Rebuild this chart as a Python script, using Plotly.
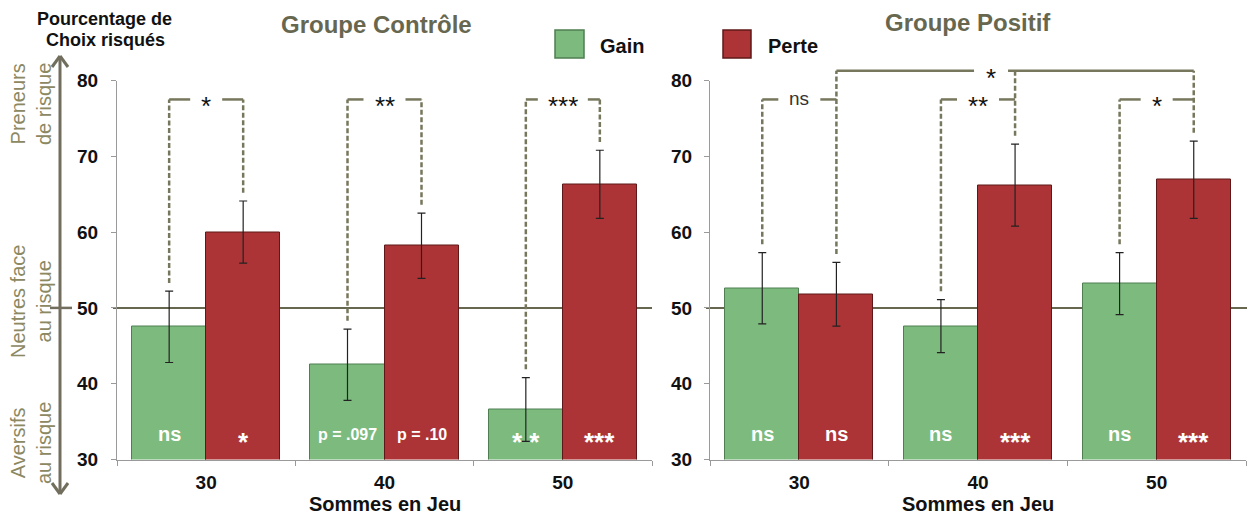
import plotly.graph_objects as go

# ---------------- data ----------------
categories = ["30", "40", "50"]
ctrl_gain = [47.5, 42.5, 36.6]
ctrl_gain_err = [4.7, 4.7, 4.2]
ctrl_loss = [60.0, 58.2, 66.3]
ctrl_loss_err = [4.1, 4.3, 4.5]
pos_gain = [52.6, 47.6, 53.2]
pos_gain_err = [4.7, 3.5, 4.1]
pos_loss = [51.8, 66.2, 66.9]
pos_loss_err = [4.2, 5.4, 5.1]
ctrl_gain_labels = ["ns", "p = .097", "* *"]
ctrl_loss_labels = ["*", "p = .10", "***"]
pos_gain_labels = ["ns", "ns", "ns"]
pos_loss_labels = ["ns", "***", "***"]
ctrl_pair_sig = ["*", "**", "***"]
pos_pair_sig = ["ns", "**", "*"]
pos_across_sig = "*"
yticks = [30, 40, 50, 60, 70, 80]

# ---------------- style ----------------
W, H = 1247, 516
FONT = "Liberation Sans, Arial, sans-serif"
GREEN = "#7dba7e"
GREEN_LINE = "#4f7f50"
RED = "#ad3436"
RED_LINE = "#5e1819"
OLIVE = "#676750"
DASHC = "#77775d"
KHAKI = "#8c8862"
Y0, Y1 = 1 - 459.5 / H, 1 - 80.5 / H
XL = [117 / W, 652 / W]
XR = [710 / W, 1246 / W]
wl = wr = 0.415
catpx_l = (652 - 117) / 3
catpx_r = (1246 - 710) / 3
PXU = (459.5 - 80.5) / 50  # pixels per y unit


def yp(v):
    return Y0 + (v - 30) / 50 * (Y1 - Y0)


fig = go.Figure()


def add_bars(vals, errs, color, lcolor, offset, width, xa, ya):
    fig.add_trace(go.Bar(
        x=categories, y=vals, xaxis=xa, yaxis=ya,
        offset=offset, width=width,
        marker=dict(color=color, line=dict(color=lcolor, width=1)),
        error_y=dict(type="data", array=errs, color="#222222", thickness=1.2, width=4),
        showlegend=False, hoverinfo="skip",
    ))


add_bars(ctrl_gain, ctrl_gain_err, GREEN, GREEN_LINE, -wl, wl, "x", "y")
add_bars(ctrl_loss, ctrl_loss_err, RED, RED_LINE, 0, wl, "x", "y")
add_bars(pos_gain, pos_gain_err, GREEN, GREEN_LINE, -wr, wr, "x2", "y2")
add_bars(pos_loss, pos_loss_err, RED, RED_LINE, 0, wr, "x2", "y2")

shapes = []
annotations = []


def ann(**kw):
    kw.setdefault("showarrow", False)
    kw.setdefault("xanchor", "center")
    kw.setdefault("yanchor", "middle")
    annotations.append(kw)


# 50% reference lines
shapes.append(dict(type="line", xref="paper", yref="paper", x0=113 / W, x1=652 / W,
                   y0=yp(50), y1=yp(50), line=dict(color=OLIVE, width=2), layer="below"))
shapes.append(dict(type="line", xref="paper", yref="paper", x0=706 / W, x1=1.0,
                   y0=yp(50), y1=yp(50), line=dict(color=OLIVE, width=2), layer="below"))


def vdash(xref, x, v0, v1):
    shapes.append(dict(type="line", xref=xref, yref="paper", x0=x, x1=x, y0=yp(v0), y1=yp(v1),
                       line=dict(color=DASHC, width=2.5, dash="5px,2.5px")))


def hsolid(xref, xa, xb, v):
    shapes.append(dict(type="line", xref=xref, yref="paper", x0=xa, x1=xb, y0=yp(v), y1=yp(v),
                       line=dict(color=DASHC, width=2.5)))


def sigtext(xref, x, v, txt):
    if txt == "ns":
        ann(xref=xref, yref="paper", x=x, y=yp(v + 0.1), text=txt,
            font=dict(family=FONT, size=19, color="#333333"))
    else:
        size = 26
        ann(xref=xref, yref="paper", x=x, y=yp(v - 0.27 * size / PXU), text=txt,
            font=dict(family=FONT, size=size, color="#111111"))


gap_px = {"*": 16, "**": 21, "***": 25, "ns": 21}
TOP = 77.5
GAP = 1.1

# control brackets
for i in range(3):
    xg, xr = i - wl / 2, i + wl / 2
    vdash("x", xg, ctrl_gain[i] + ctrl_gain_err[i] + GAP, TOP)
    vdash("x", xr, ctrl_loss[i] + ctrl_loss_err[i] + GAP, TOP)
    g = gap_px[ctrl_pair_sig[i]] / catpx_l
    hsolid("x", xg, i - g, TOP)
    hsolid("x", i + g, xr, TOP)
    sigtext("x", i, TOP, ctrl_pair_sig[i])

# positive brackets
TOP2 = 81.3
for i in range(3):
    xg, xr = i - wr / 2, i + wr / 2
    vdash("x2", xg, pos_gain[i] + pos_gain_err[i] + GAP, TOP)
    vdash("x2", xr, pos_loss[i] + pos_loss_err[i] + GAP, TOP2)
    g = gap_px[pos_pair_sig[i]] / catpx_r
    hsolid("x2", xg, i - g, TOP)
    hsolid("x2", i + g, xr, TOP)
    sigtext("x2", i, TOP, pos_pair_sig[i])
star_x = 1.073
sg = 17 / catpx_r
hsolid("x2", wr / 2, star_x - sg, TOP2)
hsolid("x2", star_x + sg, 2 + wr / 2, TOP2)
sigtext("x2", star_x, TOP2, pos_across_sig)

# in-bar labels
LABV = 33.3
for i in range(3):
    for xref, x, t in [("x", i - wl / 2, ctrl_gain_labels[i]), ("x", i + wl / 2, ctrl_loss_labels[i]),
                       ("x2", i - wr / 2, pos_gain_labels[i]), ("x2", i + wr / 2, pos_loss_labels[i])]:
        if t.startswith("p"):
            size, v = 16, LABV
        elif "*" in t:
            size = 26
            v = LABV - 0.27 * size / PXU
        else:
            size, v = 20, LABV
        ann(xref=xref, yref="paper", x=x, y=yp(v), text="<b>%s</b>" % t,
            font=dict(family=FONT, size=size, color="white"))

# titles
ann(xref="paper", yref="paper", x=376 / W, y=1 - 25 / H, text="<b>Groupe Contrôle</b>",
    font=dict(family=FONT, size=24, color=OLIVE))
ann(xref="paper", yref="paper", x=968 / W, y=1 - 23 / H, text="<b>Groupe Positif</b>",
    font=dict(family=FONT, size=24, color=OLIVE))

# x-axis titles
for cx in [(117 + 652) / 2, (710 + 1246) / 2]:
    ann(xref="paper", yref="paper", x=cx / W, y=1 - 504 / H, text="<b>Sommes en Jeu</b>",
        font=dict(family=FONT, size=20, color="#111111"))

# legend
shapes.append(dict(type="rect", xref="paper", yref="paper", x0=555 / W, x1=584 / W, y0=1 - 58 / H, y1=1 - 30 / H,
                   fillcolor=GREEN, line=dict(color=GREEN_LINE, width=1.5)))
ann(xref="paper", yref="paper", x=598 / W, y=1 - 46 / H, text="<b>Gain</b>", xanchor="left",
    font=dict(family=FONT, size=20, color="#111111"))
shapes.append(dict(type="rect", xref="paper", yref="paper", x0=723 / W, x1=751 / W, y0=1 - 58 / H, y1=1 - 30 / H,
                   fillcolor=RED, line=dict(color=RED_LINE, width=1.5)))
ann(xref="paper", yref="paper", x=766 / W, y=1 - 46 / H, text="<b>Perte</b>", xanchor="left",
    font=dict(family=FONT, size=20, color="#111111"))

# left y-axis title and risk arrow
ann(xref="paper", yref="paper", x=104 / W, y=1 - 19 / H, text="<b>Pourcentage de</b>",
    font=dict(family=FONT, size=18, color="#111111"))
ann(xref="paper", yref="paper", x=105 / W, y=1 - 40 / H, text="<b>Choix risqués</b>",
    font=dict(family=FONT, size=18, color="#111111"))
AX = 60 / W
ACOL = "#726e5e"
shapes.append(dict(type="line", xref="paper", yref="paper", x0=AX, x1=AX, y0=1 - 57 / H, y1=1 - 493 / H,
                   line=dict(color=ACOL, width=3)))
for (xa, ya, xb, yb) in [(52, 67, 60, 56), (68, 67, 60, 56), (52, 483, 60, 494), (68, 483, 60, 494)]:
    shapes.append(dict(type="line", xref="paper", yref="paper", x0=xa / W, x1=xb / W, y0=1 - ya / H, y1=1 - yb / H,
                       line=dict(color=ACOL, width=3)))
shapes.append(dict(type="line", xref="paper", yref="paper", x0=50 / W, x1=72 / W, y0=yp(50), y1=yp(50),
                   line=dict(color=ACOL, width=2.5)))
for txt, cy in [("Preneurs<br>de risque", 104), ("Neutres face<br>au risque", 302), ("Aversifs<br>au risque", 443)]:
    ann(xref="paper", yref="paper", x=31 / W, y=1 - cy / H, text=txt, textangle=-90,
        font=dict(family=FONT, size=20, color=KHAKI), align="center")

axis_common = dict(showgrid=False, zeroline=False, showline=True, linecolor="#9a9a9a", linewidth=1,
                   ticks="outside", ticklen=5, tickcolor="#9a9a9a", automargin=False,
                   tickfont=dict(family=FONT, size=19, color="#111111", weight="bold"))

fig.update_layout(
    width=W, height=H, margin=dict(l=0, r=0, t=0, b=0, autoexpand=False),
    paper_bgcolor="white", plot_bgcolor="rgba(0,0,0,0)",
    showlegend=False, bargap=0,
    xaxis=dict(domain=XL, anchor="y", type="category", range=[-0.5, 2.5], tickson="boundaries",
               ticklabelstandoff=6, **axis_common),
    xaxis2=dict(domain=XR, anchor="y2", type="category", range=[-0.5, 2.5], tickson="boundaries",
                ticklabelstandoff=6, **axis_common),
    yaxis=dict(domain=[Y0, Y1], anchor="x", range=[30, 80], tickvals=yticks, ticklabelstandoff=9, **axis_common),
    yaxis2=dict(domain=[Y0, Y1], anchor="x2", range=[30, 80], tickvals=yticks, ticklabelstandoff=8, **axis_common),
    shapes=shapes, annotations=annotations,
)

fig.write_html("out.html", config={"displayModeBar": False},
               post_script="document.body.style.margin='0';")
